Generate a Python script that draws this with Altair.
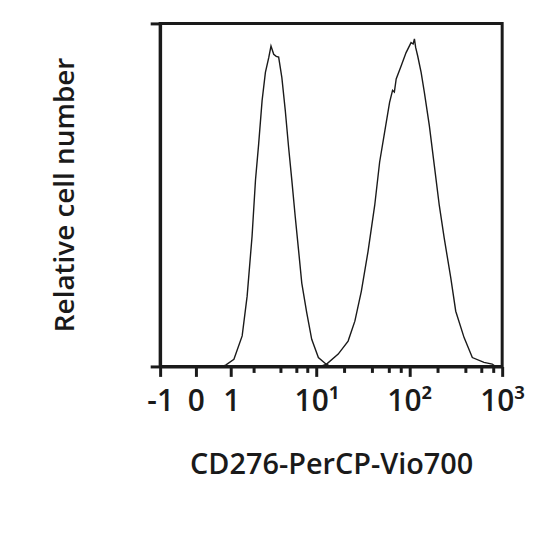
import altair as alt
import pandas as pd
import numpy as np

# Control (unstained) histogram: fluorescence intensity vs relative count
ctrl_x = [0.70, 0.815, 1.097, 1.426, 1.652, 1.90, 2.09, 2.28, 2.50, 2.73, 2.98, 3.16,
          3.39, 3.62, 3.85, 4.18, 4.56, 4.96, 5.38, 5.86, 6.37, 6.91, 7.82, 8.86,
          10.46, 12.52, 14.0]
ctrl_y = [0.0, 0.4, 2.1, 8.9, 20.5, 37.9, 54.3, 64.9, 77.5, 85.7, 90.0, 93.4,
          91.0, 90.4, 90.2, 84.2, 74.6, 63.9, 54.3, 43.7, 34.0, 24.3, 15.7, 7.9,
          2.6, 0.8, 0.0]

# CD276-PerCP-Vio700 stained histogram
stain_x = [11.0, 12.84, 17.13, 21.9, 25.9, 30.4, 35.9, 42.4, 47.9, 54.2, 61.3, 66.0,
           69.0, 72.2, 81.6, 92.3, 104.4, 110.0, 113.5, 117.0, 123.1, 134.0, 145.2,
           164.3, 185.8, 210.1, 237.6, 279.6, 316.2, 389.0, 477.0, 637.0, 782.0, 850.0]
stain_y = [0.0, 0.7, 3.6, 7.4, 13.2, 21.9, 33.5, 47.0, 59.6, 68.3, 77.0, 80.5,
           80.0, 83.8, 87.6, 91.5, 94.4, 94.0, 95.5, 93.0, 90.5, 85.7, 79.9,
           70.2, 58.6, 47.0, 37.4, 25.8, 16.1, 8.4, 2.6, 1.2, 0.7, 0.0]

major_ticks = [-1, 0, 1, 10, 100, 1000]
major_labels = ["-1", "0", "1", "10¹", "10²", "10³"]
minor_ticks = [2, 4, 6, 8, 20, 40, 60, 80, 200, 400, 600, 800]

df = pd.concat([
    pd.DataFrame({"x": ctrl_x, "y": ctrl_y, "series": "control"}),
    pd.DataFrame({"x": stain_x, "y": stain_y, "series": "stained"}),
], ignore_index=True)

axis_values = np.arcsinh(np.array(major_ticks + minor_ticks, dtype=float)).tolist()
inv = "round((exp(datum.value)-exp(-datum.value))/2)"
label_expr = "".join(f"{inv} == {v} ? '{l}' : " for v, l in zip(major_ticks, major_labels)) + "''"
tick_size = {"condition": {"test": f"indexof({major_ticks}, {inv}) >= 0", "value": 10}, "value": 6}

ink = "#1a1a1a"
font = "Open Sans"

chart = alt.Chart(df).transform_calculate(
    t="log(datum.x + sqrt(datum.x*datum.x + 1))"
).mark_line(color=ink, strokeWidth=1.4).encode(
    x=alt.X("t:Q",
            scale=alt.Scale(domain=[float(np.arcsinh(-1)), float(np.arcsinh(1000))], nice=False, zero=False),
            axis=alt.Axis(values=axis_values, labelExpr=label_expr, tickSize=tick_size,
                          tickWidth=3, domainWidth=3, grid=False,
                          labelBaseline="alphabetic", labelPadding=34, labelFontSize=30,
                          labelFont=font, labelFontWeight=600, labelColor=ink,
                          labelOverlap=False, labelFlush=False,
                          title="CD276-PerCP-Vio700", titleFontSize=29, titleFont=font,
                          titleFontWeight=600, titleColor=ink, titleBaseline="alphabetic",
                          titleX=172, titleY=108, titleAlign="center")),
    y=alt.Y("y:Q",
            scale=alt.Scale(domain=[0, 100], nice=False),
            axis=alt.Axis(values=[0, 100], labels=False, tickSize=10, tickWidth=3,
                          domainWidth=3, grid=False,
                          title="Relative cell number", titleFontSize=28, titleFont=font,
                          titleFontWeight=600, titleColor=ink, titleAngle=270,
                          titleBaseline="alphabetic", titleAlign="center",
                          titleX=-87, titleY=172)),
    detail="series:N",
).properties(
    width=344, height=345,
    autosize=alt.AutoSizeParams(type="none"),
    padding={"left": 153, "top": 14, "right": 30, "bottom": 165},
).configure_view(
    stroke=ink, strokeWidth=3
).configure_axis(
    domainColor=ink, tickColor=ink
)

chart.save("out.html", embed_options={"renderer": "svg", "actions": False})
